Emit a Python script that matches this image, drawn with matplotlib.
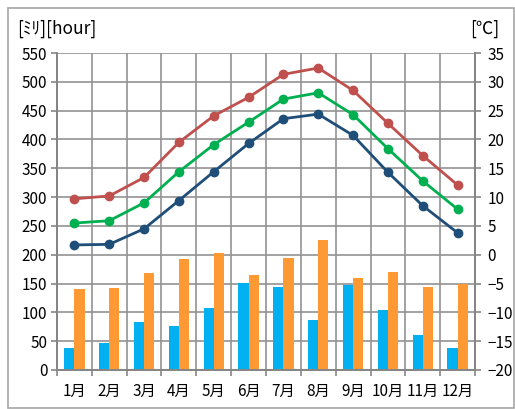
import numpy as np
import matplotlib
matplotlib.use("Agg")
import matplotlib.pyplot as plt
from matplotlib.patches import Rectangle

plt.rcParams['font.family'] = ['Noto Sans CJK JP', 'DejaVu Sans']

months = ['1月', '2月', '3月', '4月', '5月', '6月', '7月', '8月', '9月', '10月', '11月', '12月']
# precipitation [mm] and sunshine [hour]
precip = [38, 47, 83, 76, 108, 151, 144, 86, 148, 104, 60, 38]
sunshine = [141, 142, 169, 192, 203, 165, 195, 225, 159, 170, 144, 149]
# temperatures [°C]
t_max = [9.7, 10.2, 13.4, 19.5, 24.1, 27.3, 31.3, 32.4, 28.5, 22.8, 17.2, 12.1]
t_mean = [5.5, 5.9, 9.0, 14.4, 19.1, 23.0, 27.0, 28.1, 24.3, 18.4, 12.8, 7.9]
t_min = [1.7, 1.8, 4.5, 9.4, 14.4, 19.3, 23.6, 24.4, 20.7, 14.3, 8.5, 3.8]

W, H = 515, 409
fig = plt.figure(figsize=(W / 100, H / 100), dpi=100)
fig.patch.set_facecolor('white')
fig.patches.append(Rectangle((8 / W, 1 / H), (W - 9) / W, (H - 9) / H,
                             transform=fig.transFigure, fill=False,
                             edgecolor='#a6a6a6', linewidth=1.2))

ax = fig.add_axes([57 / W, (H - 370) / H, (475 - 57) / W, (370 - 53) / H])
ax2 = ax.twinx()

x = np.arange(len(months))
bw = 0.29
grid_c = '#929292'
axis_c = '#868686'
fs = 11

ax.bar(x - bw / 2, precip, width=bw, color='#00b0f0', zorder=3)
ax.bar(x + bw / 2, sunshine, width=bw, color='#ff9933', zorder=3)

ax.set_xlim(-0.5, len(months) - 0.5)
ax.set_ylim(0, 550)
ax.set_yticks(np.arange(0, 551, 50))
ax.set_xticks(x)
ax.set_xticklabels(months)
ax.set_xticks(np.arange(-0.5, len(months), 1), minor=True)
ax.tick_params(axis='x', which='major', length=0, pad=9, labelsize=fs)
ax.tick_params(axis='x', which='minor', length=4, color=axis_c, width=1.2)
ax.tick_params(axis='y', length=4, color=axis_c, width=1.2, labelsize=fs, pad=3)
ax.grid(True, axis='y', color=grid_c, linewidth=1.2, zorder=0)
ax.grid(True, axis='x', which='minor', color=grid_c, linewidth=1.2, zorder=0)
ax.set_axisbelow(True)

ax2.plot(x, t_max, color='#c0504d', lw=2, marker='o', ms=6, zorder=4)
ax2.plot(x, t_mean, color='#00b050', lw=2, marker='o', ms=6, zorder=4)
ax2.plot(x, t_min, color='#1f4e79', lw=2, marker='o', ms=6, zorder=4)
ax2.set_ylim(-20, 35)
ax2.set_yticks(np.arange(-20, 36, 5))
ax2.tick_params(axis='y', length=4, color=axis_c, width=1.2, labelsize=fs, pad=5)

for a in (ax, ax2):
    a.spines['top'].set_visible(False)
    for s in ('left', 'right', 'bottom'):
        a.spines[s].set_color(axis_c)
        a.spines[s].set_linewidth(1.4)

fig.text(17 / W, 1 - 29 / H, '[ﾐﾘ][hour]', fontsize=12.5, va='center', ha='left')
fig.text(470 / W, 1 - 29 / H, '[℃]', fontsize=12.5, va='center', ha='left')

fig.savefig('out.png', dpi=100)
